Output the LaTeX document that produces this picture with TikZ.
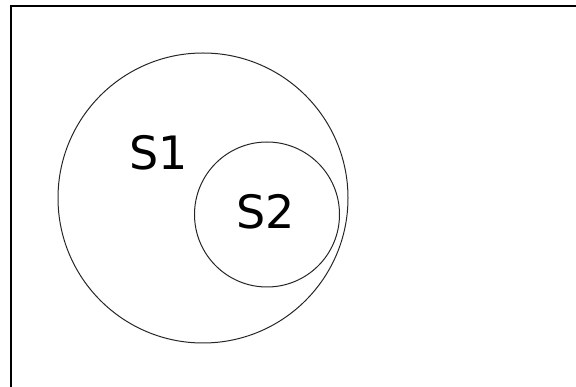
\documentclass[tikz,border=0pt]{standalone}
\usepackage{fontspec}
\setmainfont{DejaVu Sans}
\begin{document}
\begin{tikzpicture}[x=1pt,y=-1pt,
  setcircle/.style={draw=black!85,line width=1pt,circle,inner sep=0pt},
  setlabel/.style={font=\fontsize{46}{46}\selectfont,inner sep=0pt}]
  \useasboundingbox (0,0) rectangle (576,387);
  \draw[line width=2pt] (10.5,387) -- (10.5,6.5) -- (576,6.5);
  \node[setcircle,minimum size=290pt] (s1) at (203,198) {};
  \node[setcircle,minimum size=145pt] (s2) at (267,214.5) {};
  \node[setlabel] (s1label) at (158.5,153) {S1};
  \node[setlabel] (s2label) at (265.5,212) {S2};
\end{tikzpicture}
\end{document}
